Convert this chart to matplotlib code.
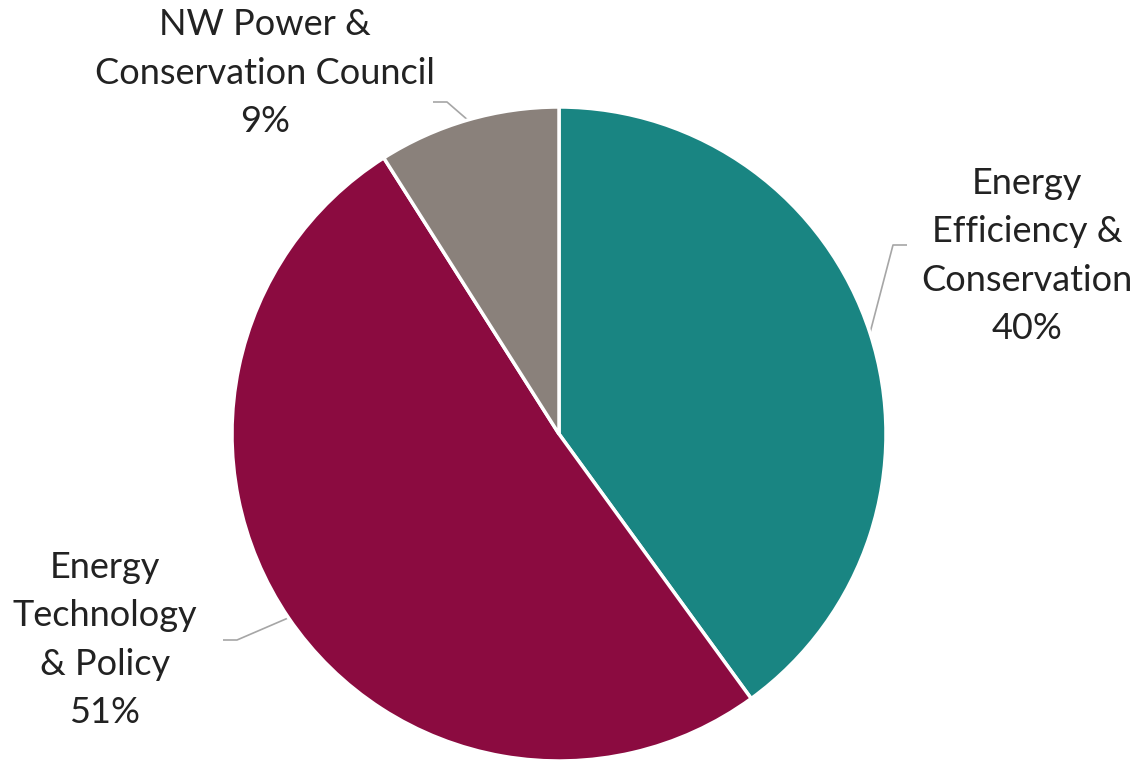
import numpy as np
import matplotlib
matplotlib.use("Agg")
import matplotlib.pyplot as plt

# Budget split by program area (percent)
categories = ["Energy\nEfficiency &\nConservation",
              "Energy\nTechnology\n& Policy",
              "NW Power &\nConservation Council"]
shares = [40, 51, 9]
colors = ["#198582", "#8B0B40", "#8A817B"]

W, H = 1140, 764
fig = plt.figure(figsize=(W / 100, H / 100), dpi=100)
ax = fig.add_axes([0, 0, 1, 1])

cx, cy, r = 559, H - 434, 327
wedges, _ = ax.pie(shares, colors=colors, startangle=90, counterclock=False,
                   center=(cx, cy), radius=r, frame=True,
                   wedgeprops=dict(edgecolor="white", linewidth=2.5))
ax.set_xlim(0, W)
ax.set_ylim(0, H)
ax.set_aspect("equal")
ax.axis("off")

# label placement: (elbow x, elbow y, end x, text x, text y)
layout = [
    (893, H - 245, 907, 1027, H - 256),
    (237, H - 640, 223, 105, H - 640),
    (447, H - 102, 433, 265, H - 73),
]

font = dict(family="Lato", size=26, color="#222222")
for w, cat, val, (ex, ey, tx_end, tx, ty) in zip(wedges, categories, shares, layout):
    mid = np.deg2rad((w.theta1 + w.theta2) / 2)
    sx, sy = cx + r * np.cos(mid), cy + r * np.sin(mid)
    ax.plot([sx, ex, tx_end], [sy, ey, ey], color="#A6A6A6", lw=1.2,
            solid_capstyle="butt", zorder=0)
    ax.text(tx, ty, f"{cat}\n{val}%", ha="center", va="center",
            linespacing=1.58, **font)

fig.savefig("out.png", dpi=100, facecolor="white")
